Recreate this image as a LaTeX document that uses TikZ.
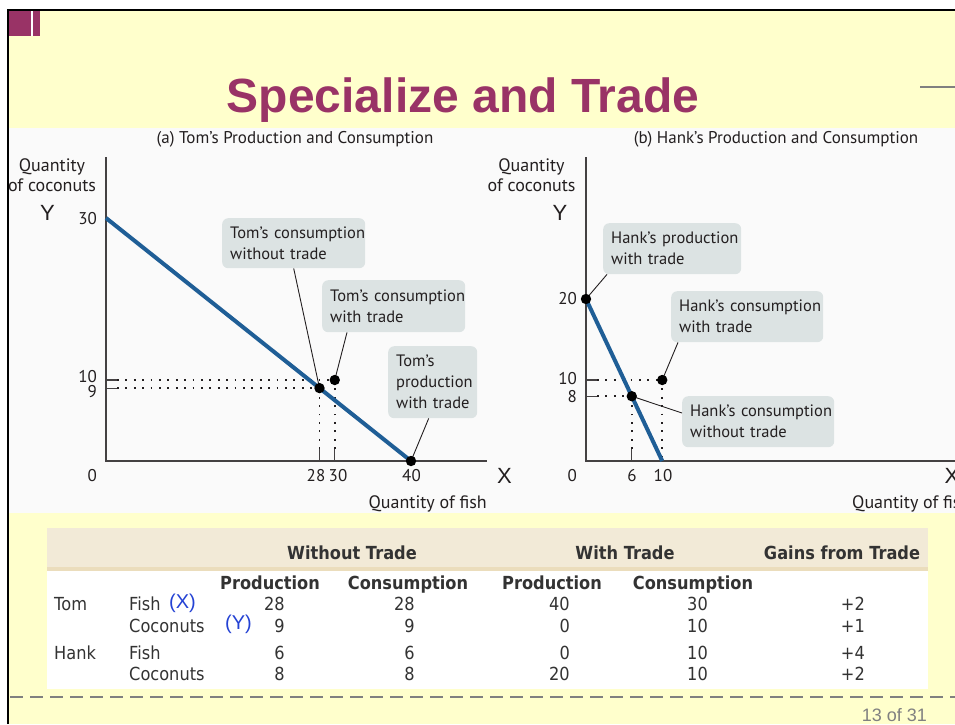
\documentclass[tikz,border=0pt]{standalone}
\usepackage{fontspec}
\setmainfont{Liberation Sans}
\newfontfamily\chartfont{PT Sans}
\newfontfamily\tablefont[FakeStretch=0.9]{DejaVu Sans}
\usetikzlibrary{calc}
\usepackage{xcolor}

\definecolor{slideyellow}{HTML}{FFFFCC}
\definecolor{titlemaroon}{HTML}{993366}
\definecolor{ppfblue}{HTML}{1F5E96}
\definecolor{calloutgray}{HTML}{DCE3E3}
\definecolor{figback}{HTML}{FAFAFA}
\definecolor{headband}{HTML}{F2EAD7}
\definecolor{headline}{HTML}{EBDDBC}
\definecolor{chartink}{HTML}{231F20}
\definecolor{tableink}{HTML}{333333}
\definecolor{xyblue}{HTML}{2442D4}

\begin{document}
\begin{tikzpicture}[x=1pt, y=-1pt,
	callout/.style={fill=calloutgray, rounded corners=6pt, anchor=north west, inner xsep=8pt, inner ysep=0pt, align=left, text=chartink, font=\chartfont\fontsize{16.5}{21}\selectfont},
	numlabel/.style={text=chartink, inner sep=1pt, font=\chartfont\fontsize{17}{20}\selectfont},
	charttitle/.style={text=chartink, anchor=base, font=\chartfont\fontsize{17}{20}\selectfont},
	axislabel/.style={text=chartink, align=center, font=\chartfont\fontsize{18}{20}\selectfont},
	letter/.style={text=chartink, font=\fontsize{22}{24}\selectfont},
	ppf/.style={ppfblue, line width=4pt},
	dots/.style={chartink, line width=1.8pt, dash pattern=on 1.8pt off 6.6pt},
	axisline/.style={chartink!85, line width=1.1pt},
	leader/.style={chartink, line width=0.9pt},
	cell/.style={anchor=base east, inner sep=0pt, text=tableink, font=\tablefont\fontsize{18}{20}\selectfont},
	rowname/.style={anchor=base west, inner sep=0pt, text=tableink, font=\tablefont\fontsize{18}{20}\selectfont},
	colhead/.style={anchor=base, inner sep=0pt, text=tableink, font=\tablefont\bfseries\fontsize{18}{20}\selectfont},
	varlabel/.style={anchor=base west, inner sep=0pt, text=xyblue, font=\fontsize{20}{22}\selectfont}]
	\useasboundingbox (0,0) rectangle (955,724);
	\fill[white] (0,0) rectangle (955,724);
	\fill[slideyellow] (8,9) rectangle (955,724);
	\fill[titlemaroon] (8,10) rectangle (40,36);
	\fill[white] (31,10) rectangle (32.5,36);
	\draw[black, line width=2pt] (8,724) -- (8,9.5) -- (955,9.5);
	\draw[gray, line width=2pt] (920,87) -- (955,87);
	\node[anchor=base, text=titlemaroon, font=\bfseries\fontsize{48}{50}\selectfont] (title) at (463,112) {Specialize and Trade};

	\fill[figback] (9,128) rectangle (955,513);
	\begin{scope}
	\clip (9,128) rectangle (955,513);
	% (a) Tom
	\coordinate (Ao) at (106,461);
	\coordinate (Atop) at (106,157);
	\coordinate (Aend) at (487,461);
	\coordinate (Ay) at (106,218);
	\coordinate (Ax) at (411,461);
	\coordinate (Anotrade) at (319.5,388.1);
	\coordinate (Atrade) at (334.75,380);
	\node[charttitle] (atitle) at (295,143) {(a) Tom’s Production and Consumption};
	\node[axislabel] (aylab) at (52,175) {Quantity\\of coconuts};
	\node[axislabel, anchor=base east, inner sep=0pt] (axlab) at (487,508) {Quantity of fish};
	\node[letter] (aY) at (47.5,213) {Y};
	\node[letter] (aX) at (504.5,476) {X};
	\draw[axisline] (Atop) -- (Ao) -- (Aend);
	\draw[axisline] (Ao |- Atrade) -- ++(11,0) coordinate (a10);
	\draw[axisline] (Ao |- Anotrade) -- ++(11,0) coordinate (a9);
	\draw[axisline] (Ao -| Anotrade) -- ++(0,-12) coordinate (a28);
	\draw[axisline] (Ao -| Atrade) -- ++(0,-12) coordinate (a30);
	\draw[dots] (a10) -- (Atrade);
	\draw[dots] (a9) -- (Anotrade);
	\draw[dots] (a28) -- (Anotrade);
	\draw[dots] (a30) -- (Atrade);
	\draw[ppf] (Ay) -- (Ax);
	\node[numlabel, anchor=east] (a30l) at (98,219) {30};
	\node[numlabel, anchor=east] (a10l) at (98,376.5) {10};
	\node[numlabel, anchor=east] (a9l) at (98,392) {9};
	\node[numlabel, anchor=east] (a0l) at (98,476) {0};
	\node[numlabel] (a28l) at (316,476) {28};
	\node[numlabel] (a30x) at (338,476) {30};
	\node[numlabel] (a40l) at (411.5,476) {40};
	\node[callout, text width=127pt, minimum height=50pt] (tnt) at (222,218) {\mbox{Tom’s consumption}\\\mbox{without trade}};
	\node[callout, text width=127pt, minimum height=52pt] (twt) at (322,280) {\mbox{Tom’s consumption}\\\mbox{with trade}};
	\node[callout, text width=73pt, minimum height=72pt] (tpw) at (388,346) {\mbox{Tom’s}\\\mbox{production}\\\mbox{with trade}};
	\draw[leader] (tnt.south) -- (Anotrade);
	\draw[leader] ($(twt.south west)+(25,0)$) -- (Atrade);
	\draw[leader] ($(tpw.south)+(-4,0)$) -- (Ax);
	\fill[black] (Anotrade) circle (5.2pt);
	\fill[black] (Atrade) circle (5.2pt);
	\fill[black] (Ax) circle (5.2pt);
	% (b) Hank
	\coordinate (Bo) at (586,461);
	\coordinate (Btop) at (586,157);
	\coordinate (Bend) at (960,461);
	\coordinate (By) at (586,299);
	\coordinate (Bx) at (662.25,461);
	\coordinate (Bnotrade) at (631.75,396.2);
	\coordinate (Btrade) at (662.25,380);
	\node[charttitle] (btitle) at (776,143) {(b) Hank’s Production and Consumption};
	\node[axislabel] (bylab) at (531.5,175) {Quantity\\of coconuts};
	\node[axislabel, anchor=base west, inner sep=0pt] (bxlab) at (852,508) {Quantity of fish};
	\node[letter] (bY) at (560,213) {Y};
	\node[letter] (bX) at (952,476) {X};
	\draw[axisline] (Btop) -- (Bo) -- (Bend);
	\draw[axisline] (Bo |- Btrade) -- ++(11,0) coordinate (b10);
	\draw[axisline] (Bo |- Bnotrade) -- ++(11,0) coordinate (b8);
	\draw[axisline] (Bo -| Bnotrade) -- ++(0,-12) coordinate (b6);
	\draw[dots] (b10) -- (Btrade);
	\draw[dots] (b8) -- (Bnotrade);
	\draw[dots] (b6) -- (Bnotrade);
	\draw[dots] (Btrade) -- (Bx);
	\draw[ppf] (By) -- (Bx);
	\node[numlabel, anchor=east] (b20l) at (578,299) {20};
	\node[numlabel, anchor=east] (b10l) at (578,379) {10};
	\node[numlabel, anchor=east] (b8l) at (578,397) {8};
	\node[numlabel, anchor=east] (b0l) at (578,476) {0};
	\node[numlabel] (b6l) at (632,476) {6};
	\node[numlabel] (b10x) at (663,476) {10};
	\node[callout, text width=122pt, minimum height=51pt] (hpw) at (603,223) {\mbox{Hank’s production}\\\mbox{with trade}};
	\node[callout, text width=136pt, minimum height=51pt] (hwt) at (671,291) {\mbox{Hank’s consumption}\\\mbox{with trade}};
	\node[callout, text width=136pt, minimum height=51pt] (hnt) at (682,396) {\mbox{Hank’s consumption}\\\mbox{without trade}};
	\draw[leader] ($(hpw.south west)+(4,0)$) -- (By);
	\draw[leader] ($(hwt.south west)+(7,0)$) -- (Btrade);
	\draw[leader] ($(hnt.north west)+(0,17)$) -- (Bnotrade);
	\fill[black] (By) circle (5.2pt);
	\fill[black] (Btrade) circle (5.2pt);
	\fill[black] (Bnotrade) circle (5.2pt);
	\end{scope}

	% table
	\fill[white] (47,528) rectangle (928,689);
	\fill[headband] (47,528) rectangle (928,570);
	\fill[headline] (47,567) rectangle (928,571);
	\node[colhead] (hwo) at (352,559) {Without Trade};
	\node[colhead] (hwi) at (625,559) {With Trade};
	\node[colhead] (hga) at (842,559) {Gains from Trade};
	\node[colhead] (sp1) at (270,589) {Production};
	\node[colhead] (sc1) at (408,589) {Consumption};
	\node[colhead] (sp2) at (552,589) {Production};
	\node[colhead] (sc2) at (693,589) {Consumption};
	\node[rowname] (rtom) at (54,610) {Tom};
	\node[rowname] (rhank) at (54,659) {Hank};
	\node[rowname] (rf1) at (129,610) {Fish};
	\node[rowname] (rc1) at (129,632) {Coconuts};
	\node[rowname] (rf2) at (129,659) {Fish};
	\node[rowname] (rc2) at (129,680) {Coconuts};
	\node[varlabel] (vX) at (169,608) {(X)};
	\node[varlabel] (vY) at (225,629) {(Y)};
	\path (285,610) node[cell] (n11) {28} (415,610) node[cell] (n12) {28} (570,610) node[cell] (n13) {40} (708,610) node[cell] (n14) {30} (865,610) node[cell] (n15) {+2};
	\path (285,632) node[cell] (n21) {9} (415,632) node[cell] (n22) {9} (570,632) node[cell] (n23) {0} (708,632) node[cell] (n24) {10} (865,632) node[cell] (n25) {+1};
	\path (285,659) node[cell] (n31) {6} (415,659) node[cell] (n32) {6} (570,659) node[cell] (n33) {0} (708,659) node[cell] (n34) {10} (865,659) node[cell] (n35) {+4};
	\path (285,680) node[cell] (n41) {8} (415,680) node[cell] (n42) {8} (570,680) node[cell] (n43) {20} (708,680) node[cell] (n44) {10} (865,680) node[cell] (n45) {+2};

	\draw[gray, line width=2pt, dash pattern=on 13pt off 7pt] (10,697) -- (955,697);
	\node[anchor=base east, inner sep=0pt, text=gray, font=\fontsize{18}{20}\selectfont] (pageno) at (927,721) {13 of 31};
\end{tikzpicture}
\end{document}
